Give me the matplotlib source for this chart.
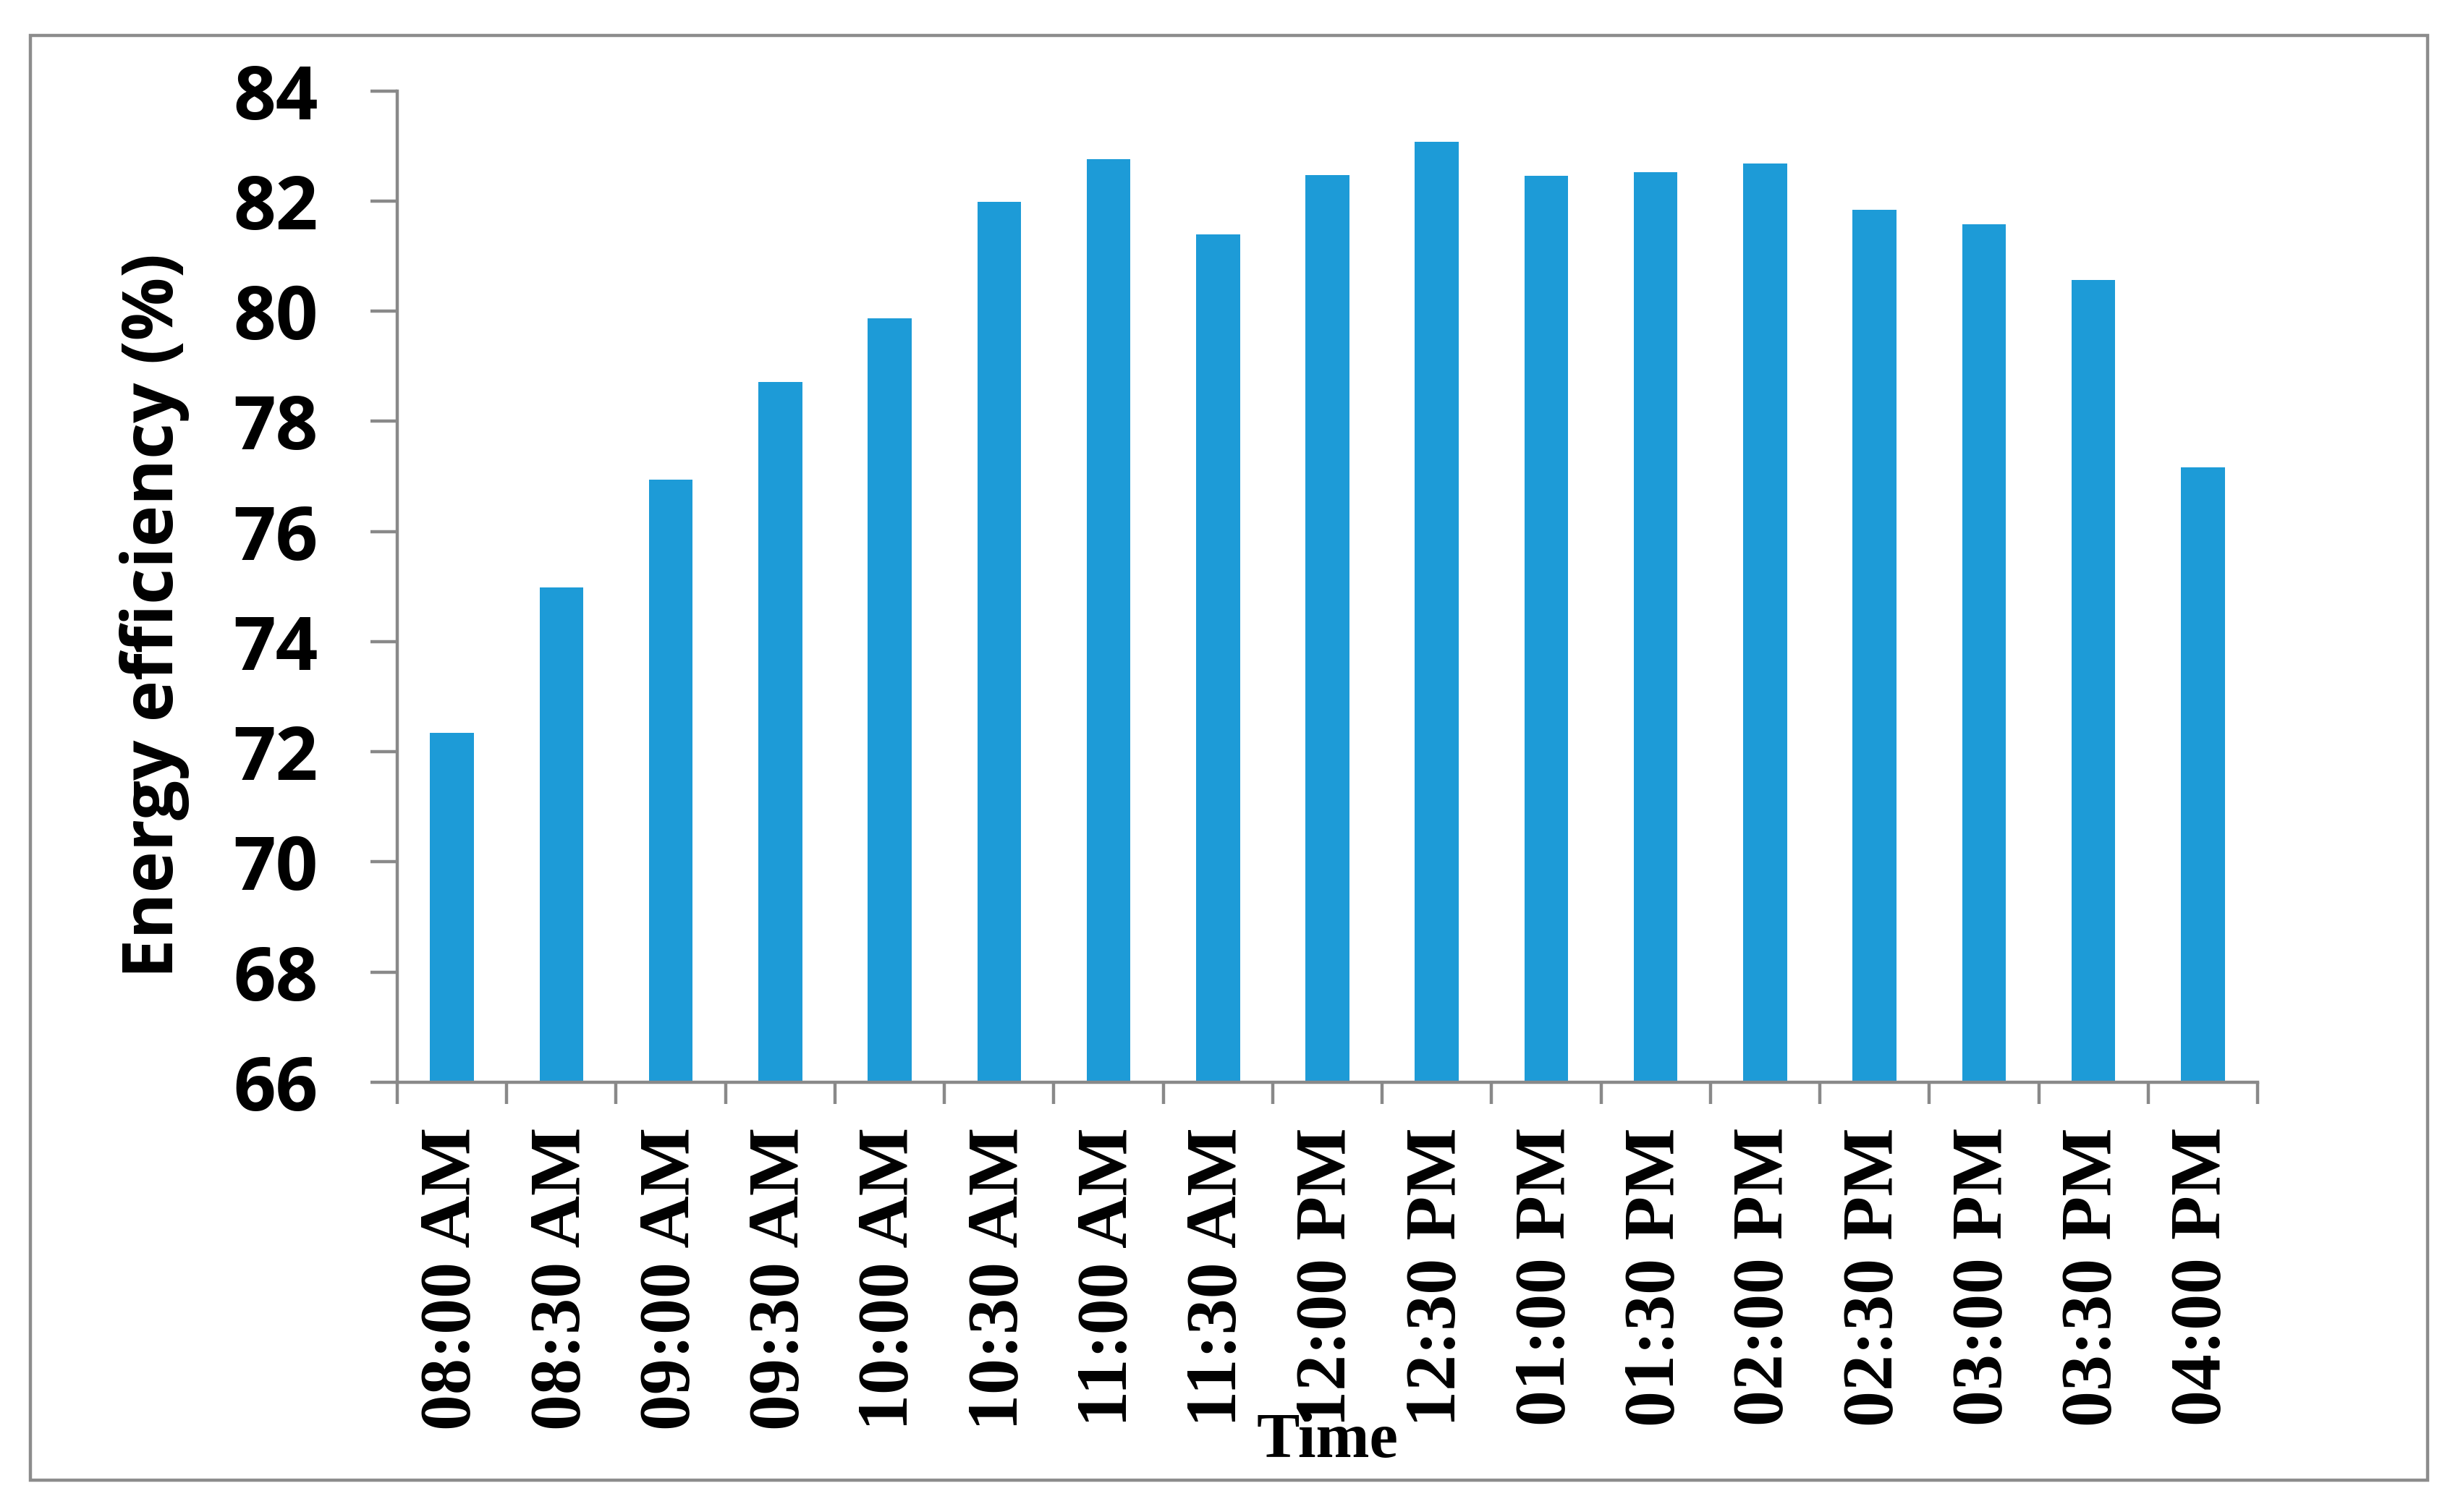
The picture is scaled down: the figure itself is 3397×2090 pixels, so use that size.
import numpy as np
import matplotlib
matplotlib.use("Agg")
import matplotlib.pyplot as plt
from matplotlib.patches import Rectangle


times = ["08:00 AM", "08:30 AM", "09:00 AM", "09:30 AM", "10:00 AM", "10:30 AM",
         "11:00 AM", "11:30 AM", "12:00 PM", "12:30 PM", "01:00 PM", "01:30 PM",
         "02:00 PM", "02:30 PM", "03:00 PM", "03:30 PM", "04:00 PM"]
efficiency = [72.34, 74.99, 76.94, 78.72, 79.87, 81.98, 82.76, 81.39, 82.47,
              83.07, 82.46, 82.52, 82.68, 81.84, 81.58, 80.57, 77.16]
y_ticks = [66, 68, 70, 72, 74, 76, 78, 80, 82, 84]

bar_color = "#1d9bd7"
axis_color = "#898989"
lw = 1.6
sans = "Open Sans"

fig = plt.figure(figsize=(16.985, 10.45), dpi=200)
ax = fig.add_axes([0.16161, 0.28421, 0.75685, 0.65574])

x = np.arange(len(times))
ax.bar(x, efficiency, width=0.40, color=bar_color, zorder=2)

ax.set_xlim(-0.5, len(times) - 0.5)
ax.set_ylim(y_ticks[0], y_ticks[-1])

for side in ["top", "right"]:
    ax.spines[side].set_visible(False)
for side in ["left", "bottom"]:
    ax.spines[side].set_color(axis_color)
    ax.spines[side].set_linewidth(lw)
    ax.spines[side].set_zorder(3)

# y axis
ax.set_yticks(y_ticks)
ax.set_yticklabels([str(v) for v in y_ticks], fontfamily=sans,
                   fontweight="bold", fontsize=37)
ax.tick_params(axis="y", direction="out", length=13.3, width=lw,
               color=axis_color, pad=26)

# x axis: labels at centres, tick marks at the boundaries
ax.set_xticks(x)
ax.set_xticklabels(times, rotation=90, fontfamily="Liberation Serif",
                   fontweight="bold", fontsize=36)
ax.tick_params(axis="x", which="major", length=0, pad=22.3)
ax.set_xticks(np.arange(len(times) + 1) - 0.5, minor=True)
ax.tick_params(axis="x", which="minor", direction="out", length=10.8,
               width=lw, color=axis_color)

ax.set_ylabel("Energy efficiency (%)", fontfamily=sans,
              fontweight="bold", fontsize=35)
ax.yaxis.label.set_va("center")
ax.yaxis.set_label_coords(-0.1303, 0.4706)

ax.set_xlabel("Time", fontfamily="Liberation Serif", fontweight="bold",
              fontsize=32)
ax.xaxis.label.set_va("baseline")
ax.xaxis.set_label_coords(0.5, -0.378)

# outer frame
fig.patches.append(Rectangle((42 / 3397, 1 - 2046 / 2090),
                             (3355 - 42) / 3397, (2046 - 49) / 2090,
                             transform=fig.transFigure, fill=False,
                             edgecolor="#8c8c8c", linewidth=lw))

fig.savefig("out.png", dpi=200)
